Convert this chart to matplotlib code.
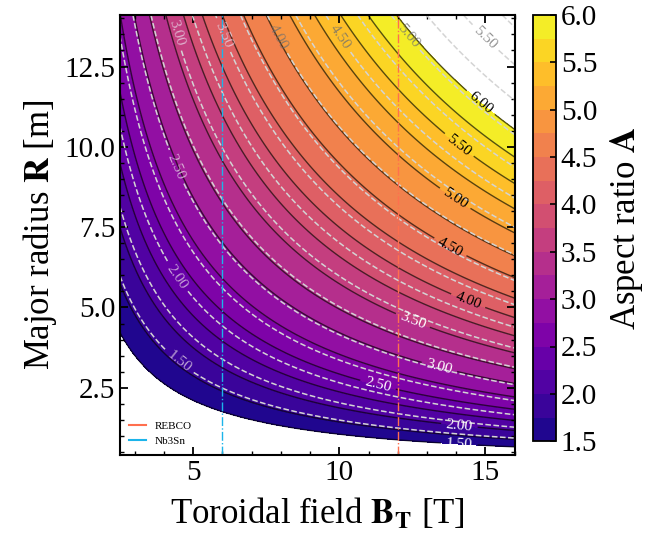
import numpy as np
import matplotlib
matplotlib.use("Agg")
import matplotlib.pyplot as plt

plt.rcParams['font.family'] = ['Liberation Serif', 'DejaVu Serif']
plt.rcParams['mathtext.fontset'] = 'stix'

# axis ranges
B_range = [2.5, 16.0]     # toroidal field [T]
R_range = [0.4, 14.1]     # major radius [m]

# aspect ratio grows like sqrt(B*R); coefficients
k_filled = 0.462          # filled field + solid lines
k_dashed = 0.388          # dashed comparison case

fill_levels = [1.5, 1.75, 2.0, 2.25, 2.5, 2.75, 3.0, 3.25, 3.5, 3.75,
               4.0, 4.25, 4.5, 4.75, 5.0, 5.25, 5.5, 5.75, 6.0]
cbar_ticks = [1.5, 2.0, 2.5, 3.0, 3.5, 4.0, 4.5, 5.0, 5.5, 6.0]

magnets = ['REBCO', 'Nb3Sn']
magnet_B = [12.0, 6.0]
magnet_colors = ['#ff6f4e', '#1cb4ea']

# label positions (B, R) for the solid labels
solid_lab_levels = [1.5, 2.0, 2.5, 3.0, 3.5, 4.0, 4.5, 5.0, 5.5, 6.0]
solid_lab_B = [14.1, 14.1, 11.3, 13.4, 12.5, 14.4, 13.7, 13.9, 14.0, 15.1]
solid_lab_R = [0.72, 1.25, 2.5, 3.06, 4.56, 5.19, 6.72, 8.31, 9.94, 11.66]

# label positions (B, R) for the dashed labels
dash_lab_levels = [1.5, 2.0, 2.5, 3.0, 3.5, 4.0, 4.5, 5.0, 5.5]
dash_lab_B = [4.49, 4.42, 4.49, 4.49, 6.1, 7.9, 10.0, 12.3, 15.0]
dash_lab_R = [3.28, 5.94, 9.4, 13.56, 13.5, 13.4, 13.4, 13.4, 13.4]


def unlabeled(levels, labeled):
    return [l for l in levels if min(abs(l - m) for m in labeled) > 1e-6]


B = np.linspace(B_range[0], B_range[1], 400)
R = np.linspace(R_range[0], R_range[1], 400)
BB, RR = np.meshgrid(B, R)
A = k_filled * np.sqrt(BB * RR)
A2 = k_dashed * np.sqrt(BB * RR)

fig = plt.figure(figsize=(6.45, 5.4), dpi=100)
ax = fig.add_axes([0.186, 0.157, 0.612, 0.815])
cax = fig.add_axes([0.826, 0.183, 0.036, 0.789])

cf = ax.contourf(BB, RR, A, levels=fill_levels, cmap='plasma')

solid_kw = dict(colors='k', linewidths=1.0, alpha=0.65)
dash_kw = dict(colors='#d4d4d4', linewidths=1.1, linestyles='--')

ax.contour(BB, RR, A, levels=unlabeled(fill_levels, solid_lab_levels), **solid_kw)
cs = ax.contour(BB, RR, A, levels=solid_lab_levels, **solid_kw)
ax.contour(BB, RR, A2, levels=unlabeled(fill_levels, dash_lab_levels), **dash_kw)
cd = ax.contour(BB, RR, A2, levels=dash_lab_levels, **dash_kw)

# solid labels: white on the dark part, black on the bright part
txts = ax.clabel(cs, fmt='%.2f', fontsize=11, inline=True,
                 manual=list(zip(solid_lab_B, solid_lab_R)))
for t in txts:
    v = float(t.get_text())
    t.set_color('white' if v < 3.75 else 'black')
    t.set_alpha(1.0)

txts2 = ax.clabel(cd, fmt='%.2f', fontsize=11, inline=True,
                  manual=list(zip(dash_lab_B, dash_lab_R)))
for t in txts2:
    v = float(t.get_text())
    t.set_color('#e6d6e6' if v < 3.75 else '#6e6e6e')
    t.set_alpha(0.75)

for name, b, c in zip(magnets, magnet_B, magnet_colors):
    ax.axvline(b, color=c, linestyle='-.', linewidth=1.0, label=name)

leg = ax.legend(loc='lower left', fontsize=8, frameon=False, handlelength=1.5,
                borderaxespad=0.4)
for h in leg.get_lines():
    h.set_linestyle('-')
    h.set_linewidth(1.5)

ax.set_xlim(B_range)
ax.set_ylim(R_range)
ax.set_xticks([5, 10, 15])
ax.set_xticks(np.arange(3, 16.1, 1), minor=True)
ax.set_yticks([2.5, 5.0, 7.5, 10.0, 12.5])
ax.set_yticks(np.arange(0.5, 14.1, 0.5), minor=True)
ax.tick_params(which='both', direction='in', top=True, right=True, labelsize=21)
ax.tick_params(which='major', length=6, width=1.3)
ax.tick_params(which='minor', length=3, width=1.0)
for s in ax.spines.values():
    s.set_linewidth(1.5)

ax.set_xlabel(r'Toroidal field $\mathbf{B_T}$ [T]', fontsize=25, labelpad=8)
ax.set_ylabel(r'Major radius $\mathbf{R}$ [m]', fontsize=25)

cb = fig.colorbar(cf, cax=cax, ticks=cbar_ticks)
cb.ax.tick_params(direction='in', labelsize=21, length=4, width=1.2)
cb.outline.set_linewidth(1.3)
cb.set_label(r'Aspect ratio $\mathbf{A}$', fontsize=25, labelpad=8)

fig.savefig('out.png', dpi=100)
